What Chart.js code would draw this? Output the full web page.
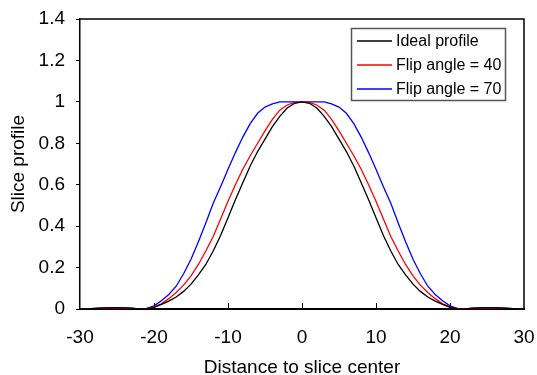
<!DOCTYPE html>
<html><head><meta charset="utf-8">
<script src="https://cdn.jsdelivr.net/npm/chart.js@4.4.0/dist/chart.umd.min.js"></script>
<style>html,body{margin:0;padding:0;background:#fff;}</style>
</head><body>
<canvas id="c" width="537" height="375" style="width:537px;height:375px;display:block"></canvas>
<script>
const distance = [-30,-29,-28,-27,-26,-25,-24,-23,-22,-21,-20,-19,-18,-17,-16,-15,-14,-13,-12,-11,-10,-9,-8,-7,-6,-5,-4,-3,-2,-1,0,1,2,3,4,5,6,7,8,9,10,11,12,13,14,15,16,17,18,19,20,21,22,23,24,25,26,27,28,29,30];
const idealProfile = [0,0.001,0.003,0.004,0.005,0.005,0.005,0.004,0.001,0,0.008,0.022,0.038,0.058,0.085,0.12,0.165,0.215,0.28,0.355,0.44,0.527,0.61,0.69,0.76,0.82,0.88,0.93,0.97,0.993,1,0.993,0.97,0.93,0.88,0.82,0.76,0.69,0.61,0.527,0.44,0.355,0.28,0.215,0.165,0.12,0.085,0.058,0.038,0.022,0.008,0,0.001,0.004,0.005,0.005,0.005,0.004,0.003,0.001,0];
const flipAngle40 = [0,0.001,0.002,0.003,0.004,0.004,0.004,0.003,0,0.002,0.01,0.025,0.05,0.08,0.115,0.16,0.215,0.28,0.35,0.435,0.52,0.6,0.675,0.74,0.8,0.86,0.915,0.96,0.985,0.997,1,0.997,0.985,0.96,0.915,0.86,0.8,0.74,0.675,0.6,0.52,0.435,0.35,0.28,0.215,0.16,0.115,0.08,0.05,0.025,0.01,0.002,0,0.003,0.004,0.004,0.004,0.003,0.002,0.001,0];
const flipAngle70 = [0,0.001,0.003,0.005,0.006,0.006,0.005,0.003,0,0.003,0.015,0.04,0.07,0.11,0.17,0.24,0.325,0.415,0.51,0.59,0.675,0.755,0.83,0.895,0.945,0.975,0.99,1,1,1,1,1,1,1,0.99,0.975,0.945,0.895,0.83,0.755,0.675,0.59,0.51,0.415,0.325,0.24,0.17,0.11,0.07,0.04,0.015,0.003,0,0.003,0.005,0.006,0.006,0.005,0.003,0.001,0];
const seriesLabels = ['Ideal profile','Flip angle = 40','Flip angle = 70'];
const seriesColors = ['#000000','#ff0000','#0000ff'];
const xTickValues = [-30,-20,-10,0,10,20,30];
const yTickValues = [0,0.2,0.4,0.6,0.8,1,1.2,1.4];
const yTickLabels = ['0','0.2','0.4','0.6','0.8','1','1.2','1.4'];

const FONT = '"Liberation Sans", Arial, sans-serif';
const series = [idealProfile, flipAngle40, flipAngle70];

const framePlugin = {
  id: 'frame',
  afterDatasetsDraw(chart) {
    const {ctx, chartArea: a, scales} = chart;
    ctx.save();
    ctx.strokeStyle = '#000';
    ctx.lineWidth = 1.5;
    ctx.beginPath();
    ctx.moveTo(a.left, a.top); ctx.lineTo(a.right, a.top); ctx.lineTo(a.right, a.bottom);
    ctx.stroke();
    ctx.lineWidth = 1;
    xTickValues.slice(1, -1).forEach(v => {
      const px = Math.round(scales.x.getPixelForValue(v)) + 0.5;
      ctx.beginPath(); ctx.moveTo(px, a.bottom); ctx.lineTo(px, a.bottom - 6); ctx.stroke();
    });
    ctx.restore();
  },
  afterDraw(chart) {
    const ctx = chart.ctx;
    const bx = 351.5, by = 28.5, bw = 154, bh = 72;
    ctx.save();
    ctx.fillStyle = '#fff';
    ctx.fillRect(bx, by, bw, bh);
    ctx.strokeStyle = '#555';
    ctx.lineWidth = 1.5;
    ctx.strokeRect(bx, by, bw, bh);
    ctx.font = '16px ' + FONT;
    ctx.textBaseline = 'middle';
    ctx.fillStyle = '#000';
    chart.data.datasets.forEach((ds, i) => {
      const y = 41 + i * 24;
      ctx.strokeStyle = ds.borderColor;
      ctx.lineWidth = 1.3;
      ctx.beginPath(); ctx.moveTo(357, y); ctx.lineTo(392, y); ctx.stroke();
      ctx.fillText(ds.label, 396, y + 1);
    });
    ctx.restore();
  }
};

new Chart(document.getElementById('c'), {
  type: 'line',
  data: {
    labels: distance,
    datasets: series.map((vals, i) => ({
      label: seriesLabels[i],
      data: distance.map((x, j) => ({x: x, y: vals[j]})),
      borderColor: seriesColors[i],
      borderWidth: 1.3,
      pointRadius: 0,
      tension: 0,
      fill: false
    }))
  },
  options: {
    responsive: false,
    animation: false,
    devicePixelRatio: 1,
    layout: {padding: {top: 19, right: 13, left: 0, bottom: 0}},
    plugins: {legend: {display: false}, tooltip: {enabled: false}},
    scales: {
      x: {
        type: 'linear', min: -30, max: 30,
        afterBuildTicks: s => { s.ticks = xTickValues.map(v => ({value: v})); },
        ticks: {color: '#000', font: {family: FONT, size: 19}, padding: 17, maxRotation: 0},
        grid: {drawOnChartArea: false, drawTicks: false},
        border: {display: true, color: '#000', width: 2},
        title: {display: true, text: 'Distance to slice center', color: '#000', font: {family: FONT, size: 19, lineHeight: 0.8}, padding: {top: 0, bottom: 0}},
        afterFit: s => { s.height = 66; s.paddingLeft = 0; s.paddingRight = 0; }
      },
      y: {
        type: 'linear', min: 0, max: 1.4,
        afterBuildTicks: s => { s.ticks = yTickValues.map(v => ({value: v})); },
        ticks: {color: '#000', font: {family: FONT, size: 19}, padding: 11,
          callback: (v) => yTickLabels[yTickValues.indexOf(v)] ?? String(v)},
        grid: {drawOnChartArea: false, drawTicks: true, tickLength: 4, color: '#000'},
        border: {display: true, color: '#000', width: 1.5},
        title: {display: true, text: 'Slice profile', color: '#000', font: {family: FONT, size: 19}, padding: {top: 7.6, bottom: 0}},
        afterFit: s => { s.width = 80; s.paddingTop = 0; s.paddingBottom = 0; }
      }
    }
  },
  plugins: [framePlugin]
});
</script>
</body></html>
